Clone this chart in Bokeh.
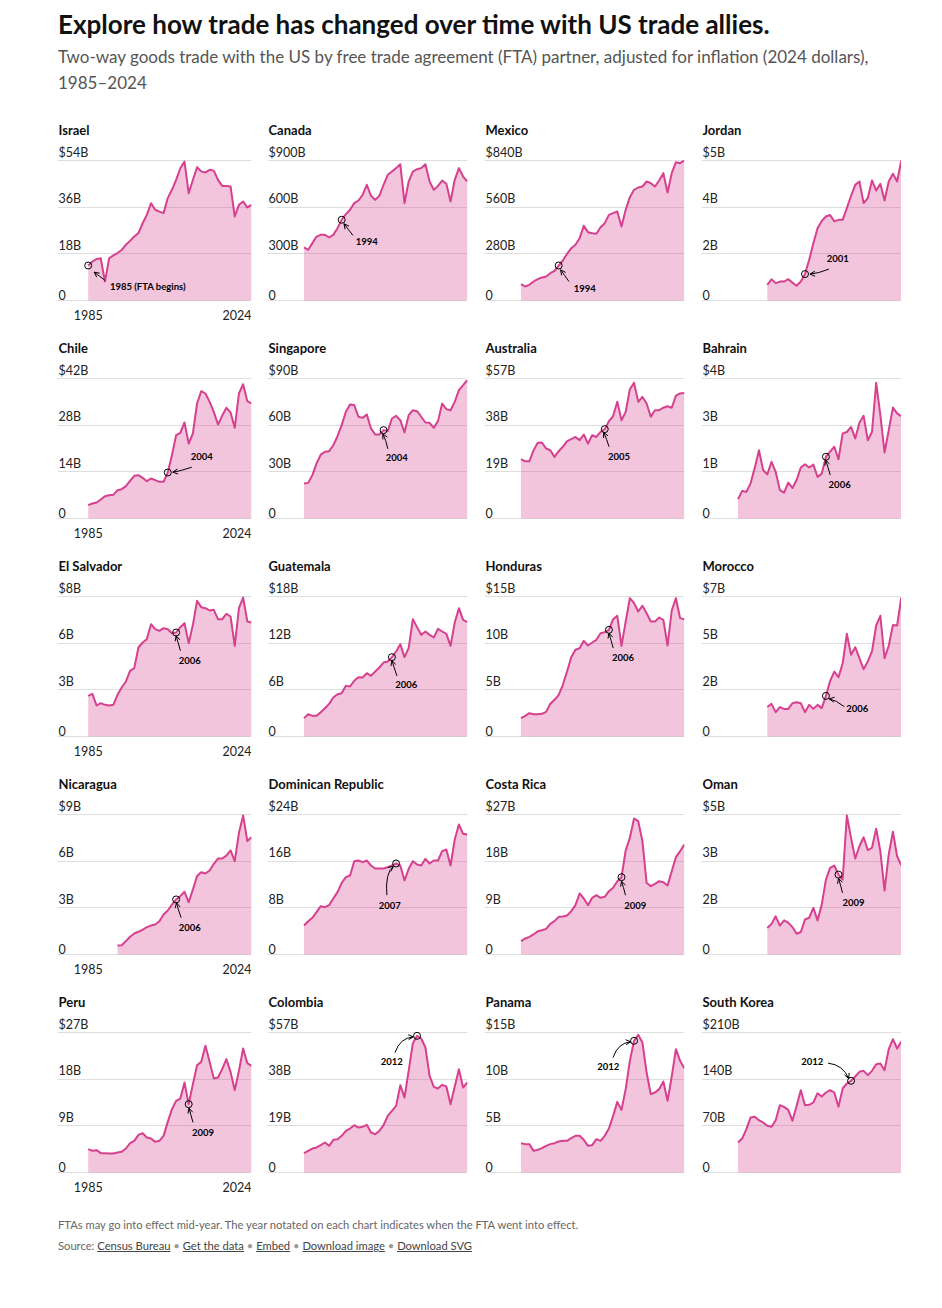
from bokeh.plotting import figure
from bokeh.layouts import column, row
from bokeh.models import Div, Range1d, FixedTicker, Grid, Arrow, OpenHead
from bokeh.core.properties import value
from bokeh.embed import file_html
from bokeh.resources import INLINE

FONT = "Lato"
LINE = "#d6408f"
INK = "#111111"

countries = ["Israel", "Canada", "Mexico", "Jordan",
             "Chile", "Singapore", "Australia", "Bahrain",
             "El Salvador", "Guatemala", "Honduras", "Morocco",
             "Nicaragua", "Dominican Republic", "Costa Rica", "Oman",
             "Peru", "Colombia", "Panama", "South Korea"]
start_years = [1985, 1985, 1985, 1992,
               1985, 1985, 1985, 1985,
               1985, 1985, 1985, 1992,
               1992, 1985, 1985, 1992,
               1985, 1985, 1985, 1985]
fta_years = [1985, 1994, 1994, 2001,
             2004, 2004, 2005, 2006,
             2006, 2006, 2006, 2006,
             2006, 2007, 2009, 2009,
             2009, 2012, 2012, 2012]
fta_labels = ["1985 (FTA begins)", "1994", "1994", "2001",
              "2004", "2004", "2005", "2006",
              "2006", "2006", "2006", "2006",
              "2006", "2007", "2009", "2009",
              "2009", "2012", "2012", "2012"]
y_max = [54, 900, 840, 5.4,
         42, 90, 57, 3.9,
         8.4, 18, 15, 6.9,
         9, 24, 27, 4.8,
         27, 57, 15, 210]
tick_labels = [["0", "18B", "36B", "$54B"], ["0", "300B", "600B", "$900B"],
               ["0", "280B", "560B", "$840B"], ["0", "2B", "4B", "$5B"],
               ["0", "14B", "28B", "$42B"], ["0", "30B", "60B", "$90B"],
               ["0", "19B", "38B", "$57B"], ["0", "1B", "3B", "$4B"],
               ["0", "3B", "6B", "$8B"], ["0", "6B", "12B", "$18B"],
               ["0", "5B", "10B", "$15B"], ["0", "2B", "5B", "$7B"],
               ["0", "3B", "6B", "$9B"], ["0", "8B", "16B", "$24B"],
               ["0", "9B", "18B", "$27B"], ["0", "2B", "3B", "$5B"],
               ["0", "9B", "18B", "$27B"], ["0", "19B", "38B", "$57B"],
               ["0", "5B", "10B", "$15B"], ["0", "70B", "140B", "$210B"]]
x_tick_years = [1985, 2024]

# Two-way goods trade, billions of 2024 dollars
israel = [13.5, 15.0, 16.0, 16.3, 7.3, 16.3, 17.4, 18.3, 19.5, 21.5, 23.0, 24.7, 26.0, 29.8, 33.0, 37.5, 35.0, 34.3, 33.7, 39.5,
          42.7, 46.5, 51.0, 53.6, 41.4, 46.5, 51.4, 49.8, 49.4, 50.4, 50.1, 46.5, 44.2, 44.2, 44.0, 32.4, 36.9, 38.2, 35.9, 36.9]
canada = [341, 326, 369, 411, 422, 422, 405, 422, 465, 519, 555, 583, 626, 643, 679, 744, 673, 647, 673, 744,
          808, 829, 851, 876, 626, 765, 829, 844, 851, 876, 765, 711, 737, 771, 750, 636, 776, 851, 797, 765]
mexico = [98, 84, 94, 114, 128, 138, 144, 164, 178, 210, 240, 280, 314, 334, 374, 448, 410, 404, 400, 440,
          464, 514, 524, 534, 444, 544, 620, 664, 678, 684, 714, 704, 684, 720, 764, 648, 764, 830, 824, 840]
jordan = [0.6, 0.82, 0.67, 0.73, 0.73, 0.82, 0.69, 0.57, 0.73, 1.02, 1.57, 2.21, 2.79, 3.07, 3.24, 3.3, 3.05,
          3.11, 3.11, 3.56, 4.04, 4.46, 4.59, 3.76, 3.95, 4.63, 4.24, 4.5, 3.86, 4.59, 4.89, 4.59, 5.4]
chile = [4.0, 4.5, 4.8, 5.7, 6.7, 7.0, 7.1, 8.5, 8.8, 9.7, 11.3, 12.8, 13.0, 12.2, 11.2, 12.0, 11.5, 11.0, 11.0, 13.8,
         19.0, 25.0, 25.7, 28.8, 22.5, 25.5, 34.5, 38.2, 37.5, 35.0, 32.0, 28.2, 30.8, 33.2, 31.8, 27.2, 37.5, 40.3, 35.2, 34.5]
singapore = [22.5, 22.9, 27.9, 35.4, 41.1, 42.9, 43.3, 47.1, 52.9, 60.0, 68.6, 73.3, 72.9, 65.4, 64.7, 66.9, 57.9, 54.0, 54.0, 56.8,
             56.2, 64.3, 66.0, 63.2, 55.3, 66.4, 69.6, 69.0, 65.4, 61.7, 61.5, 58.3, 62.6, 73.9, 70.3, 69.6, 75.0, 82.5, 85.7, 88.9]
australia = [24.2, 23.3, 23.3, 27.8, 30.8, 30.9, 28.5, 27.8, 25.1, 27.4, 29.2, 31.5, 32.3, 33.2, 31.9, 34.2, 30.5, 33.9, 33.2, 35.3,
             36.4, 39.6, 41.7, 47.5, 40.0, 43.4, 52.6, 55.2, 47.5, 49.5, 46.8, 41.4, 44.1, 44.1, 45.1, 45.7, 45.1, 50.0, 50.9, 51.1]
bahrain = [0.54, 0.77, 0.74, 0.98, 1.41, 1.9, 1.35, 1.23, 1.58, 1.3, 0.79, 0.72, 1.0, 0.85, 1.07, 1.42, 1.51, 1.42, 1.5, 1.16,
           1.25, 1.72, 1.86, 2.0, 1.65, 2.37, 2.41, 2.55, 2.23, 2.67, 2.86, 2.18, 2.41, 3.78, 2.88, 1.84, 2.46, 3.09, 2.93, 2.85]
el_salvador = [2.44, 2.56, 1.86, 2.0, 1.9, 1.86, 1.9, 2.5, 2.94, 3.3, 3.94, 4.1, 5.34, 5.64, 5.84, 6.74, 6.44, 6.34, 6.5, 6.44,
               6.2, 6.24, 6.56, 6.8, 5.6, 6.7, 8.14, 7.76, 7.7, 7.56, 7.6, 7.04, 7.04, 7.36, 7.2, 5.44, 7.7, 8.34, 6.9, 6.84]
guatemala = [2.36, 2.87, 2.66, 2.66, 3.13, 3.64, 4.2, 5.01, 5.44, 5.57, 6.51, 6.43, 7.16, 7.63, 7.59, 8.14, 7.8, 8.36, 8.87, 9.51,
             9.64, 10.2, 10.93, 11.87, 10.2, 11.36, 15.09, 14.06, 13.07, 13.5, 13.07, 12.73, 13.84, 13.5, 13.2, 11.66, 14.66, 16.5, 15.0, 14.7]
honduras = [1.96, 2.21, 2.5, 2.39, 2.39, 2.43, 2.64, 3.5, 3.93, 4.46, 5.54, 6.96, 8.5, 9.29, 9.46, 10.25, 9.75, 10.07, 10.36, 11.07,
            11.18, 11.43, 12.57, 12.93, 9.71, 12.32, 14.82, 14.29, 13.39, 14.0, 13.21, 12.32, 12.32, 12.75, 12.5, 9.75, 13.5, 14.82, 12.68, 12.57]
morocco = [1.45, 1.61, 1.2, 1.45, 1.36, 1.36, 1.64, 1.69, 1.64, 1.2, 1.56, 1.36, 1.56, 1.4, 2.0, 2.74, 3.2,
           2.92, 3.61, 5.06, 4.03, 4.4, 3.86, 3.32, 3.7, 4.19, 5.47, 5.95, 3.86, 4.47, 5.5, 5.47, 6.85]
nicaragua = [0.58, 0.6, 0.86, 1.14, 1.35, 1.46, 1.59, 1.76, 1.86, 1.93, 2.14, 2.57, 2.83, 3.21, 3.54, 3.75, 4.03,
             3.36, 4.18, 5.04, 5.29, 5.21, 5.4, 5.83, 6.17, 6.17, 6.36, 6.69, 6.0, 7.82, 8.94, 7.29, 7.54]
dominican_republic = [4.97, 5.71, 6.29, 7.26, 8.29, 8.11, 8.46, 9.6, 10.69, 12.29, 13.26, 13.54, 16.0, 16.11, 15.83, 16.11, 15.26, 14.74, 14.74, 14.74,
                      14.97, 15.26, 15.6, 15.26, 12.69, 14.69, 16.0, 15.43, 15.26, 16.4, 15.6, 16.11, 16.11, 17.71, 18.0, 15.26, 19.71, 22.29, 20.69, 20.57]
costa_rica = [2.57, 3.09, 3.41, 3.86, 4.5, 4.69, 4.95, 5.91, 6.43, 7.26, 7.33, 7.52, 8.36, 9.51, 11.77, 10.8, 9.51, 10.93, 11.44, 10.93,
              11.12, 12.21, 12.86, 14.14, 14.91, 20.06, 22.5, 26.23, 25.71, 21.86, 13.82, 13.18, 13.63, 14.14, 13.95, 13.31, 16.07, 18.77, 19.93, 21.21]
oman = [0.91, 1.05, 1.31, 0.99, 1.17, 1.09, 0.94, 0.71, 0.77, 1.2, 1.26, 1.6, 1.17, 1.71, 2.57, 2.97, 3.05,
        2.74, 2.57, 4.77, 4.0, 3.29, 3.71, 4.02, 3.58, 3.66, 4.31, 3.54, 2.19, 3.43, 4.21, 3.37, 3.06]
peru = [4.5, 4.18, 4.31, 3.73, 3.73, 3.66, 3.66, 3.86, 3.99, 4.63, 5.66, 6.11, 7.26, 7.59, 6.75, 6.56, 5.91, 6.11, 7.07, 9.77,
        12.21, 13.82, 14.27, 17.36, 13.18, 17.04, 20.7, 21.34, 24.43, 21.34, 18.13, 18.32, 19.93, 21.86, 19.41, 15.88, 19.61, 23.91, 21.09, 20.57]
colombia = [7.87, 8.82, 9.77, 10.18, 11.13, 12.21, 10.86, 13.3, 13.57, 14.93, 16.96, 17.91, 19.27, 18.32, 18.59, 19.4, 16.29, 15.6, 16.96, 19.27,
            23.07, 25.1, 27.14, 35.55, 30.53, 41.39, 52.65, 55.64, 54.55, 50.89, 39.35, 34.88, 34.2, 35.69, 35.01, 27.82, 35.01, 42.07, 34.6, 36.64]
panama = [3.14, 3.04, 3.04, 2.32, 2.43, 2.61, 2.86, 3.04, 3.14, 3.32, 3.39, 3.39, 3.68, 3.93, 3.93, 3.5, 2.86, 2.93, 3.57, 3.39,
          3.93, 4.71, 6.07, 7.57, 6.71, 8.93, 11.96, 14.11, 14.75, 13.93, 10.71, 8.39, 8.57, 8.93, 9.75, 7.68, 10.29, 13.21, 11.96, 11.18]
south_korea = [45, 51, 65, 82.5, 83.5, 78.5, 75, 70, 68.5, 78.5, 101, 98.5, 94, 77.5, 100, 123.5, 101, 101.5, 105, 119,
               114, 120, 123.5, 120, 98.5, 126, 133.5, 137.5, 144, 151, 152.5, 146, 152.5, 162.5, 163.5, 153.5, 185, 200, 186, 196.5]

series = [israel, canada, mexico, jordan, chile, singapore, australia, bahrain,
          el_salvador, guatemala, honduras, morocco, nicaragua, dominican_republic,
          costa_rica, oman, peru, colombia, panama, south_korea]

# annotation layout, screen pixels relative to the FTA marker (y down):
# label dx, label dy, align, arrow start dx/dy, arrow end dx/dy, control dx/dy
notes = [
    (21.7, 21, "left", 17, 15, 6, 6.7, 11.5, 10.8),
    (14, 21.7, "left", 11.3, 15.7, 2.3, 4, 6.8, 9.8),
    (15, 22.7, "left", 10.3, 16, 2, 4.3, 6.1, 10.1),
    (21.7, -15.3, "left", 24, -5, 5, 0, 13, -0.5),
    (23, -16, "left", 24, -5.3, 5, -0.3, 13, -1.5),
    (13.3, 27.7, "center", 4.3, 18.7, -0.7, 3.7, 2.5, 10),
    (14.3, 27.7, "center", 4.3, 17.7, -1, 3.3, 2, 10),
    (13.7, 28, "center", 4.3, 18.3, -0.3, 3.3, 2, 10),
    (13.7, 27.7, "center", 4.3, 18.3, 0, 3.3, 2, 10),
    (14.3, 27.7, "center", 5, 18.7, 0, 3.3, 2, 10),
    (14, 28, "center", 4.3, 18.3, 0, 3.3, 2, 10),
    (20.3, 12.3, "left", 18.3, 10.7, 3.3, 3, 10, 4),
    (13.7, 28.3, "center", 5, 18.3, 0.3, 3.3, 2, 10),
    (-6.3, 42.3, "center", -9.3, 31.7, -2.7, 3, -11, 9),
    (13.7, 28.3, "center", 4, 18, 0, 4, 2, 10),
    (15, 28.3, "center", 4, 18.3, 0, 3.7, 2, 10),
    (14.3, 28.3, "center", 4.3, 18.3, 0.3, 4, 2, 10),
    (-25.3, 26, "center", -22, 16.7, -3.7, 1, -17, 2),
    (-25.7, 26, "center", -21, 16.7, -3.3, 1, -16, 2),
    (-38.7, -19, "center", -23, -17.7, -2.3, -2.3, -8, -16),
]

PPY = 4.187      # pixels per year
PANEL_H = 218
TOP_PX = 44      # frame top -> top gridline
BASE_PX = 184    # frame top -> zero line
PLOT_PX = BASE_PX - TOP_PX


def panel(i):
    col = i % 4
    vals = series[i]
    start = start_years[i]
    years = list(range(start, start + len(vals)))
    m = y_max[i]
    fw = 194 if col == 0 else 200
    lead = 30.7 if col == 0 else 36.5
    x0 = 1985 - lead / PPY
    x1 = x0 + fw / PPY
    upp = m / PLOT_PX
    y0 = -(PANEL_H - BASE_PX) * upp
    y1 = m + TOP_PX * upp
    borders = [(57, 16), (0, 17), (0, 17), (0, 0)][col]
    p = figure(frame_width=fw, frame_height=PANEL_H,
               x_range=Range1d(x0, x1), y_range=Range1d(y0, y1),
               x_axis_type=None, y_axis_type=None,
               toolbar_location=None, output_backend="svg",
               min_border_left=borders[0], min_border_right=borders[1],
               min_border_top=0, min_border_bottom=0,
               outline_line_color=None, background_fill_color="white",
               border_fill_color="white")
    ticks = [0, m / 3, 2 * m / 3, m]
    grid = Grid(dimension=1, ticker=FixedTicker(ticks=ticks),
                grid_line_color="#dedede", grid_line_width=1)
    p.add_layout(grid)

    p.varea(x=years, y1=[0] * len(vals), y2=vals, fill_color=LINE, fill_alpha=0.3)
    p.line(x=years, y=vals, line_color=LINE, line_width=2, line_join="round")

    # y tick labels sitting on their gridlines
    p.text(x=[x0 + 1 / PPY] * 4, y=ticks, text=tick_labels[i],
           text_font=value(FONT), text_font_size=value("12.5px"),
           text_color="#222222", text_align="left", text_baseline="bottom",
           y_offset=-1)
    # country name
    p.text(x=[x0 + 1 / PPY], y=[m + 31 * upp], text=[countries[i]],
           text_font=value(FONT), text_font_size=value("13px"), text_font_style="bold",
           text_color=INK, text_align="left", text_baseline="middle")
    if col == 0:
        p.text(x=[x_tick_years[0]], y=[-14 * upp], text=[str(x_tick_years[0])],
               text_font=value(FONT), text_font_size=value("12.5px"),
               text_color="#222222", text_align="center", text_baseline="middle")
        p.text(x=[x1], y=[-14 * upp], text=[str(x_tick_years[1])],
               text_font=value(FONT), text_font_size=value("12.5px"),
               text_color="#222222", text_align="right", text_baseline="middle")

    # FTA marker and note
    fy = fta_years[i]
    fv = vals[fy - start]
    ldx, ldy, align, sdx, sdy, edx, edy, cdx, cdy = notes[i]

    def X(dx):
        return fy + dx / PPY

    def Y(dy):
        return fv - dy * upp

    p.quadratic(x0=[X(sdx)], y0=[Y(sdy)], x1=[X(edx)], y1=[Y(edy)],
                cx=[X(cdx)], cy=[Y(cdy)], line_color="black", line_width=1)
    hx = X(edx + 0.15 * (cdx - edx))
    hy = Y(edy + 0.15 * (cdy - edy))
    p.add_layout(Arrow(end=OpenHead(size=5, line_width=1, line_color="black"),
                       x_start=hx, y_start=hy, x_end=X(edx), y_end=Y(edy),
                       line_color="black", line_width=1))
    p.scatter(x=[fy], y=[fv], marker="circle", size=7, fill_color=None,
              line_color="black", line_width=1)
    p.text(x=[X(ldx)], y=[Y(ldy)], text=[fta_labels[i]],
           text_font=value(FONT), text_font_size=value("9.5px"), text_font_style="bold",
           text_color="black", text_align=align, text_baseline="middle")
    return p


panels = [panel(i) for i in range(20)]
rows = [row(*panels[r * 4:(r + 1) * 4], spacing=0) for r in range(5)]

title_div = Div(
    text=('<div style="font-family:Lato,sans-serif;padding-left:58px;padding-top:9px;">'
          '<div style="font-size:26px;font-weight:700;color:#111;line-height:30px;">'
          'Explore how trade has changed over time with US trade allies.</div>'
          '<div style="font-size:17px;color:#555;line-height:26px;margin-top:5px;">'
          'Two-way goods trade with the US by free trade agreement (FTA) partner, adjusted for inflation (2024 dollars),<br>'
          '1985\u20132024</div></div>'),
    width=930, height=116, margin=(0, 0, 0, 0))

footer_div = Div(
    text=('<div style="font-family:Lato,sans-serif;padding-left:58px;padding-top:8px;font-size:11.2px;color:#666;line-height:21px;">'
          '<div>FTAs may go into effect mid-year. The year notated on each chart indicates when the FTA went into effect.</div>'
          '<div>Source: <u style="color:#444">Census Bureau</u> <span style="color:#999">\u2022</span> '
          '<u style="color:#444">Get the data</u> <span style="color:#999">\u2022</span> '
          '<u style="color:#444">Embed</u> <span style="color:#999">\u2022</span> '
          '<u style="color:#444">Download image</u> <span style="color:#999">\u2022</span> '
          '<u style="color:#444">Download SVG</u></div></div>'),
    width=930, height=60, margin=(0, 0, 0, 0))

layout = column(title_div, *rows, footer_div, spacing=0)

open("out.html", "w").write(file_html(layout, INLINE))
